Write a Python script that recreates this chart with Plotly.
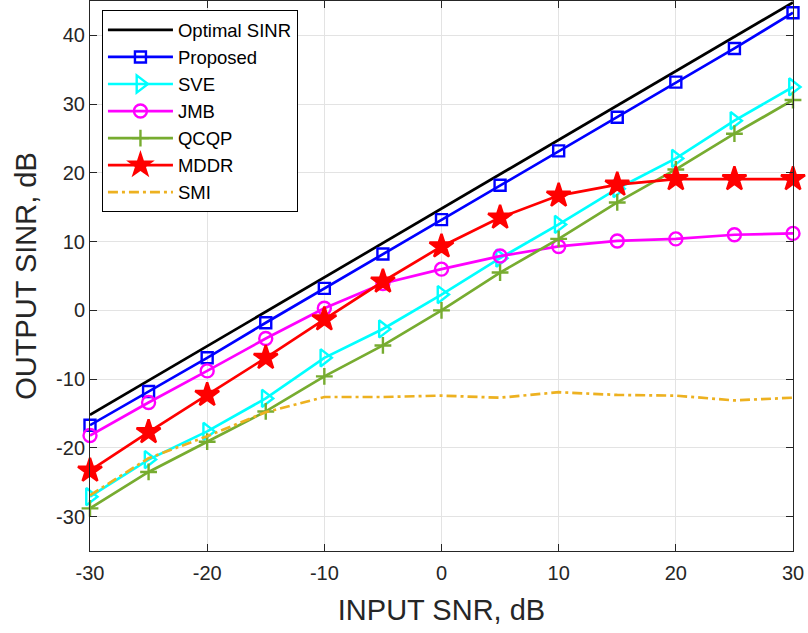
import plotly.graph_objects as go

snr = [-30, -25, -20, -15, -10, -5, 0, 5, 10, 15, 20, 25, 30]

optimal = [-15.2, -10.2, -5.2, -0.2, 4.8, 9.8, 14.8, 19.8, 24.8, 29.8, 34.8, 39.8, 44.8]
proposed = [-16.7, -11.8, -6.9, -1.8, 3.2, 8.2, 13.2, 18.2, 23.2, 28.1, 33.2, 38.1, 43.3]
sve = [-27.1, -21.7, -17.6, -12.8, -6.9, -2.7, 2.3, 7.6, 12.5, 17.7, 22.1, 27.6, 32.5]
jmb = [-18.2, -13.4, -8.8, -4.1, 0.3, 3.9, 6.0, 7.9, 9.3, 10.1, 10.4, 11.0, 11.2]
qcqp = [-28.8, -23.5, -19.1, -14.7, -9.6, -5.1, 0.0, 5.5, 10.4, 15.7, 20.5, 25.7, 30.6]
mddr = [-23.3, -17.7, -12.3, -6.9, -1.3, 4.2, 9.3, 13.5, 16.7, 18.3, 19.1, 19.1, 19.1]
smi = [-26.9, -21.5, -18.3, -14.8, -12.6, -12.6, -12.4, -12.7, -11.9, -12.3, -12.4, -13.1, -12.7]

x_ticks = [-30, -20, -10, 0, 10, 20, 30]
y_ticks = [-30, -20, -10, 0, 10, 20, 30, 40]

FONT = "Liberation Sans, Arial, sans-serif"
AX = "#262626"

series = [
    ("Optimal SINR", optimal, "#000000", None, 0, None),
    ("Proposed", proposed, "#0000FF", "square-open", 11, None),
    ("SVE", sve, "#00FFFF", "triangle-right-open", 15, None),
    ("JMB", jmb, "#FF00FF", "circle-open", 13, None),
    ("QCQP", qcqp, "#77AC30", "cross-thin-open", 12, None),
    ("MDDR", mddr, "#FF0000", "star", 18, None),
    ("SMI", smi, "#EDB120", None, 0, "10px,4px,3px,4px"),
]

fig = go.Figure()
for name, ys, color, sym, size, dash in series:
    mode = "lines+markers" if sym else "lines"
    kw = dict(x=snr, y=ys, name=name, mode=mode, cliponaxis=False,
              line=dict(color=color, width=2.7, dash=dash or "solid"))
    if sym:
        kw["marker"] = dict(symbol=sym, size=size, color=color,
                            line=dict(color=color, width=2.4))
    fig.add_trace(go.Scatter(**kw))

axis_common = dict(
    showline=True, linecolor=AX, linewidth=1, mirror="ticks",
    ticks="inside", ticklen=7, tickcolor=AX, tickwidth=1,
    showgrid=True, gridcolor="#e3e3e3", gridwidth=1, zeroline=False,
    tickfont=dict(family=FONT, size=20, color=AX),
)

fig.update_xaxes(range=[-30, 30], tickvals=x_ticks, ticktext=[str(v) for v in x_ticks],
                 ticklabelstandoff=4,
                 title=dict(text="INPUT SNR, dB", font=dict(family=FONT, size=29, color=AX), standoff=16),
                 **axis_common)
fig.update_yaxes(range=[-35, 45], tickvals=y_ticks, ticktext=[str(v) for v in y_ticks],
                 title=dict(text="OUTPUT SINR, dB", font=dict(family=FONT, size=29, color=AX), standoff=10),
                 **axis_common)

fig.update_layout(
    width=808, height=633,
    margin=dict(l=90, r=15, t=1, b=82),
    paper_bgcolor="white", plot_bgcolor="white",
    showlegend=True,
    legend=dict(x=0.017, y=0.983, xanchor="left", yanchor="top",
                bgcolor="white", bordercolor="#000000", borderwidth=1,
                font=dict(family=FONT, size=18.5, color="#000000"),
                itemwidth=65, tracegroupgap=0),
    font=dict(family=FONT),
)

fig.write_html("out.html")
